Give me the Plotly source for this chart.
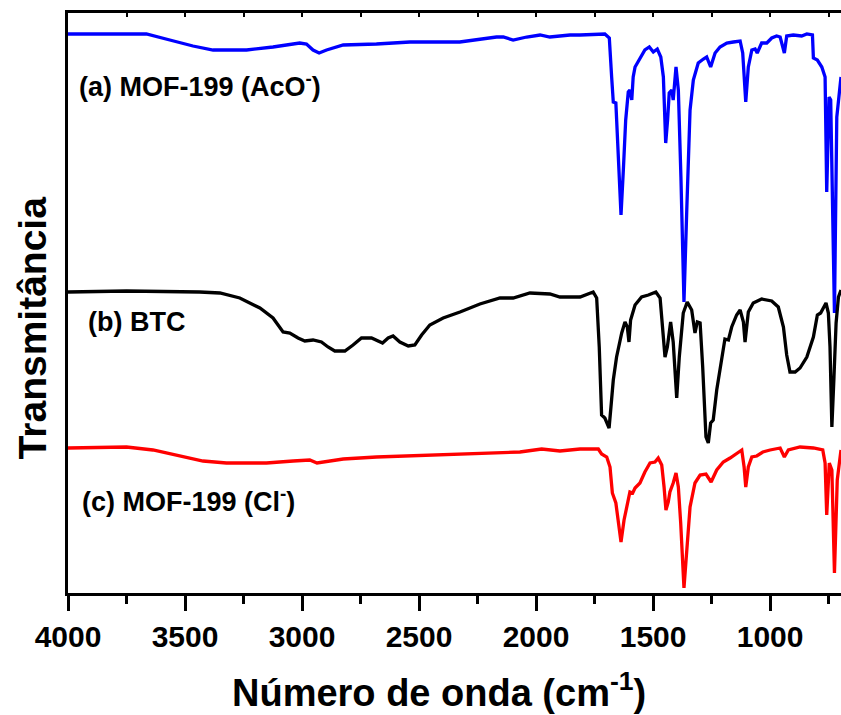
import plotly.graph_objects as go

# ---- data (wavenumber in cm-1, transmittance in arbitrary units, curves stacked) ----
wn_a = [4000, 3708, 3665, 3565, 3466, 3380, 3237, 3124, 3010, 2981, 2953, 2927, 2895, 2824,
        2682, 2539, 2326, 2169, 2140, 2098, 2040, 1983, 1941, 1855, 1812, 1706, 1687, 1677,
        1670, 1659, 1649, 1637, 1627, 1617, 1606, 1599, 1591, 1585, 1577, 1556, 1535, 1516,
        1499, 1482, 1467, 1456, 1446, 1438, 1431, 1420, 1414, 1402, 1392, 1381, 1368, 1356,
        1342, 1328, 1307, 1285, 1271, 1254, 1235, 1214, 1185, 1157, 1128, 1117, 1104, 1093,
        1078, 1064, 1055, 1036, 1014, 993, 972, 957, 939, 929, 901, 865, 843, 819, 815, 798,
        779, 765, 758, 748, 741, 725, 715, 697]
t_a = [559, 559, 559, 553, 547, 543, 543, 546, 550, 549, 543, 540, 543, 548,
       549, 551, 551, 556, 556, 553, 556, 558, 556, 558, 558, 559, 555, 516,
       491, 490, 443, 378, 423, 473, 501, 503, 493, 516, 526, 535, 543, 546,
       541, 544, 536, 516, 450, 473, 500, 503, 493, 526, 503, 416, 291, 383,
       483, 513, 530, 534, 536, 526, 540, 546, 550, 551, 552, 540, 491, 526,
       543, 544, 540, 550, 550, 555, 557, 556, 540, 557, 558, 557, 559, 558, 535, 533,
       526, 516, 401, 496, 493, 280, 476, 516]

wn_b = [4000, 3750, 3437, 3351, 3266, 3180, 3124, 3095, 3081, 3052, 3017, 2988, 2953, 2917,
        2889, 2860, 2817, 2782, 2746, 2703, 2675, 2656, 2632, 2611, 2582, 2546, 2518, 2489,
        2454, 2397, 2325, 2240, 2154, 2098, 2026, 1941, 1898, 1812, 1756, 1741, 1730, 1720,
        1706, 1688, 1680, 1670, 1656, 1634, 1620, 1610, 1603, 1596, 1577, 1549, 1520, 1488,
        1470, 1456, 1449, 1439, 1425, 1414, 1399, 1388, 1371, 1354, 1335, 1321, 1311, 1299,
        1288, 1274, 1264, 1254, 1243, 1228, 1207, 1193, 1178, 1164, 1143, 1128, 1114, 1107,
        1093, 1072, 1036, 993, 965, 943, 929, 915, 893, 872, 843, 815, 798, 784, 761, 751,
        744, 736, 727, 718, 708, 697]
t_b = [301, 302, 301, 300, 295, 285, 275, 265, 261, 260, 255, 252, 253, 251,
       246, 242, 242, 248, 255, 255, 252, 250, 255, 257, 251, 247, 248, 258,
       268, 275, 281, 289, 295, 295, 300, 299, 296, 296, 301, 295, 246, 178,
       175, 165, 186, 213, 236, 260, 271, 266, 251, 273, 288, 296, 298, 301,
       295, 255, 236, 246, 271, 251, 195, 236, 280, 291, 283, 260, 271, 270,
       226, 156, 150, 170, 173, 203, 231, 254, 253, 266, 278, 283, 271, 251,
       281, 290, 294, 292, 286, 266, 238, 221, 221, 225, 236, 256, 278, 280, 290, 280,
       246, 166, 216, 270, 296, 303]

wn_c = [4000, 3750, 3637, 3537, 3423, 3323, 3152, 3038, 2967, 2936, 2910, 2824, 2682, 2468,
        2254, 2069, 1976, 1898, 1812, 1734, 1720, 1698, 1684, 1674, 1659, 1647, 1637, 1624,
        1606, 1599, 1587, 1577, 1556, 1535, 1513, 1492, 1478, 1463, 1453, 1445, 1435, 1428,
        1414, 1402, 1392, 1382, 1368, 1356, 1342, 1321, 1299, 1274, 1252, 1228, 1200, 1171,
        1136, 1121, 1111, 1104, 1093, 1078, 1057, 1031, 1000, 957, 939, 922, 872, 815, 775,
        765, 758, 747, 736, 725, 713, 697]
t_c = [145, 146, 143, 138, 132, 130, 130, 132, 133, 130, 131, 134, 136, 138,
       140, 141, 144, 142, 144, 144, 139, 136, 126, 100, 90, 70, 51, 73,
       96, 101, 100, 105, 110, 121, 130, 131, 135, 128, 106, 83, 91, 101,
       110, 120, 106, 70, 5, 46, 86, 110, 118, 119, 111, 123, 131, 135,
       141, 143, 126, 106, 126, 136, 137, 141, 143, 145, 136, 143, 146, 145, 143,
       130, 78, 130, 123, 20, 113, 143]

labels = ["(a) MOF-199 (AcO<sup>-</sup>)", "(b) BTC", "(c) MOF-199 (Cl<sup>-</sup>)"]
label_wn = [3961, 3922, 3947]
label_t = [508, 271, 93]
colors = ["#0000FF", "#000000", "#FF0000"]

x_title = "Número de onda (cm<sup>-1</sup>)"
y_title = "Transmitância"

FONT = "Arial, 'Liberation Sans', sans-serif"

fig = go.Figure()
for wn, t, c in zip([wn_a, wn_b, wn_c], [t_a, t_b, t_c], colors):
    fig.add_trace(go.Scatter(x=wn, y=t, mode="lines", line=dict(color=c, width=3.3),
                             showlegend=False, hoverinfo="skip"))
# empty trace to activate the top mirror axis
fig.add_trace(go.Scatter(x=[], y=[], xaxis="x2", showlegend=False))

for txt, x, y in zip(labels, label_wn, label_t):
    fig.add_annotation(x=x, y=y, text=txt, showarrow=False, xanchor="left", yanchor="middle",
                       font=dict(family=FONT, size=27, color="black", weight="bold"))

# axis titles (placed as annotations to follow the reference position)
fig.add_annotation(xref="paper", yref="paper", x=0.48, y=-0.167, text=x_title,
                   showarrow=False, xanchor="center", yanchor="middle",
                   font=dict(family=FONT, size=38, color="black", weight="bold"))
fig.add_annotation(xref="paper", yref="paper", x=-0.046, y=0.457, text=y_title,
                   showarrow=False, xanchor="center", yanchor="middle", textangle=-90,
                   font=dict(family=FONT, size=39, color="black", weight="bold"))

fig.update_layout(
    width=841, height=715, autosize=False,
    margin=dict(l=68, r=0, t=13, b=122),
    paper_bgcolor="white", plot_bgcolor="white",
    font=dict(family=FONT, color="black"),
    xaxis=dict(range=[4000, 697], showgrid=False, zeroline=False,
               showline=True, linecolor="black", linewidth=2.5,
               ticks="outside", ticklen=15, tickwidth=2.5, tickcolor="black",
               dtick=500, tick0=0,
               minor=dict(dtick=250, tick0=0, ticks="outside", ticklen=8, tickwidth=2.5,
                          tickcolor="black", showgrid=False),
               tickfont=dict(family=FONT, size=30, color="black", weight="bold")),
    xaxis2=dict(overlaying="x", matches="x", side="top", showgrid=False, zeroline=False,
                showline=True, linecolor="black", linewidth=2.5,
                ticks="inside", ticklen=4, tickwidth=1.5, tickcolor="black",
                dtick=250, tick0=0, showticklabels=False),
    yaxis=dict(range=[0, 580], showgrid=False, zeroline=False, showticklabels=False,
               showline=True, linecolor="black", linewidth=2.5, ticks=""),
)

fig.write_html("out.html")
